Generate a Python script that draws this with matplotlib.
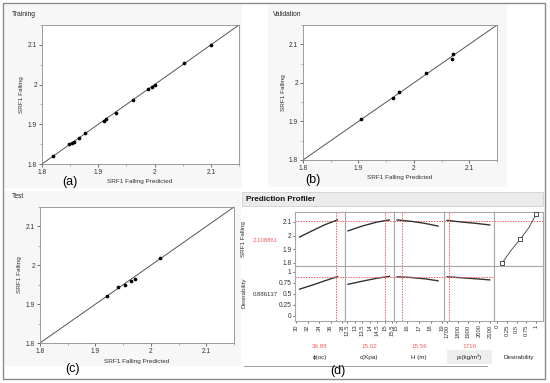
import numpy as np
import matplotlib
matplotlib.use("Agg")
import matplotlib.pyplot as plt
from matplotlib.patches import Rectangle
from matplotlib.lines import Line2D
from matplotlib.ticker import MultipleLocator

plt.rcParams['font.family'] = ['Liberation Sans', 'DejaVu Sans']

# actual by predicted data (predicted, actual)
train_pred = [1.820, 1.848, 1.854, 1.856, 1.865, 1.876, 1.911, 1.914, 1.931, 1.961, 1.988, 1.995, 2.000, 2.052, 2.100]
train_act = [1.819, 1.850, 1.854, 1.855, 1.865, 1.879, 1.909, 1.914, 1.929, 1.960, 1.988, 1.994, 2.000, 2.055, 2.100]

val_pred = [1.904, 1.962, 1.973, 2.022, 2.068, 2.071]
val_act = [1.906, 1.961, 1.976, 2.026, 2.062, 2.075]

test_pred = [1.920, 1.940, 1.954, 1.965, 1.971, 2.016]
test_act = [1.920, 1.944, 1.949, 1.959, 1.965, 2.019]

axis_range = [1.8, 2.15]
scatter_ticks = [1.8, 1.9, 2.0, 2.1]
scatter_ticklabels = ['1.8', '1.9', '2', '2.1']

# prediction profiler
factor_names = ['ϕ(oc)', 'c(Kpa)', 'H (m)', 'ρₜ(kg/m³)', 'Desirability']
factor_values = [36.88, 15.02, 15.56, 1716]
factor_value_labels = ['36.88', '15.02', '15.56', '1716']
factor_ticks = [[30, 32, 34, 36, 38],
                [12.5, 13, 13.5, 14, 14.5, 15, 15.5],
                [15, 16, 17, 18, 19],
                [1700, 1800, 1900, 2000, 2100],
                [0, 0.25, 0.5, 0.75, 1]]
factor_ticklabels = [['30', '32', '34', '36', '38'],
                     ['12.5', '13', '13.5', '14', '14.5', '15', '15.5'],
                     ['15', '16', '17', '18', '19'],
                     ['1700', '1800', '1900', '2000', '2100'],
                     ['0', '0.25', '0.5', '0.75', '1']]
factor_lims = [(29.8, 38.5), (12.37, 15.6), (14.83, 19.17), (1670, 2140), (-0.08, 1.18)]

profile_x = [[30.6, 33, 35, 37.2],
             [12.57, 13.5, 14.5, 15.3],
             [15.1, 16.3, 17.5, 18.65],
             [1700, 1830, 1970, 2100]]
srf_profile = [[1.99, 2.04, 2.08, 2.115],
               [2.035, 2.07, 2.10, 2.115],
               [2.115, 2.105, 2.09, 2.07],
               [2.112, 2.10, 2.09, 2.078]]
des_profile = [[0.61, 0.71, 0.80, 0.895],
               [0.72, 0.79, 0.86, 0.90],
               [0.89, 0.875, 0.845, 0.80],
               [0.89, 0.87, 0.845, 0.82]]

des_curve_x = [0.13, 0.35, 0.6, 0.82, 1.0]
des_curve_y = [1.80, 1.89, 1.975, 2.06, 2.155]
des_points_x = [0.13, 0.6, 1.0]
des_points_y = [1.80, 1.975, 2.155]

srf_current = 2.108861
des_current = 0.886137
srf_ticks = [1.8, 1.9, 2.0, 2.1]
srf_ticklabels = ['1.8', '1.9', '2', '2.1']
des_ticks = [0, 0.25, 0.5, 0.75, 1]
des_ticklabels = ['0', '0.25', '0.5', '0.75', '1']

W, H = 550, 383
RED = '#f06060'
GRID = '#a8a8a8'


def fbox(x0, y0, x1, y1):
    return [x0 / W, 1 - y1 / H, (x1 - x0) / W, (y1 - y0) / H]


def fx(x):
    return x / W


def fy(y):
    return 1 - y / H


def rect(x0, y0, x1, y1, **kw):
    r = Rectangle((fx(x0), fy(y1)), (x1 - x0) / W, (y1 - y0) / H,
                  transform=fig.transFigure, **kw)
    fig.add_artist(r)


fig = plt.figure(figsize=(W / 100, H / 100), dpi=100)

# panel backgrounds
rect(5, 5, 242, 188, facecolor='#f7f7f7', edgecolor='none', zorder=-5)
rect(268, 5, 507, 187, facecolor='#f7f7f7', edgecolor='none', zorder=-5)
rect(5, 191, 241, 366, facecolor='#f7f7f7', edgecolor='none', zorder=-5)
rect(242, 192, 543, 206, facecolor='#ebebeb', edgecolor='#d0d0d0', lw=0.6, zorder=-5)
rect(447, 350, 492, 364, facecolor='#eeeeee', edgecolor='none', zorder=-5)
rect(3, 3, 545, 379, facecolor='none', edgecolor='#8a8a8a', lw=1.0, zorder=5)

# scatter panels
panels = [
    ('Training', train_pred, train_act, (42, 25, 239, 164), (12, 15), 22, (140, 182), '(a)', (70, 182)),
    ('Validation', val_pred, val_act, (303, 25, 497, 160), (273, 15), 283, (400, 177), '(b)', (313, 180)),
    ('Test', test_pred, test_act, (40, 207, 234, 343), (12, 197), 20, (137, 362), '(c)', (72, 369)),
]

for title, xp, ya, box, tpos, ylx, xlpos, tag, tagpos in panels:
    ax = fig.add_axes(fbox(*box))
    ax.plot(axis_range, axis_range, color='#555555', lw=0.7, zorder=2)
    ax.scatter(xp, ya, s=7, color='black', zorder=3, linewidths=0)
    ax.set_xlim(axis_range)
    ax.set_ylim(axis_range)
    ax.set_xticks(scatter_ticks)
    ax.set_xticklabels(scatter_ticklabels)
    ax.set_yticks(scatter_ticks)
    ax.set_yticklabels(scatter_ticklabels)
    ax.xaxis.set_minor_locator(MultipleLocator(0.05))
    ax.yaxis.set_minor_locator(MultipleLocator(0.05))
    ax.tick_params(labelsize=4.8, length=2, width=0.5, pad=1.5, colors='#333333')
    ax.tick_params(which='minor', length=1.2, width=0.4, colors='#777777')
    for s in ax.spines.values():
        s.set_color('#8c8c8c')
        s.set_linewidth(0.6)
    fig.text(fx(tpos[0]), fy(tpos[1]), title, fontsize=4.8, ha='left', va='center', color='#222222')
    fig.text(fx(ylx), fy((box[1] + box[3]) / 2), 'SRF1 Falling', fontsize=4.6,
             rotation=90, ha='center', va='center', color='#333333')
    fig.text(fx(xlpos[0]), fy(xlpos[1]), 'SRF1 Falling Predicted', fontsize=4.6,
             ha='center', va='center', color='#333333')
    fig.text(fx(tagpos[0]), fy(tagpos[1]), tag, fontsize=9, ha='center', va='center')

# profiler header
fig.text(fx(246), fy(199), 'Prediction Profiler', fontsize=5.8, fontweight='bold',
         ha='left', va='center', color='#111111')

col_edges = [295, 345, 394, 444, 494, 543]
row_edges = [212, 266, 321]

for i in range(5):
    x0, x1 = col_edges[i], col_edges[i + 1]
    top = fig.add_axes(fbox(x0, row_edges[0], x1, row_edges[1]))
    bot = fig.add_axes(fbox(x0, row_edges[1], x1, row_edges[2]))
    for a in (top, bot):
        a.set_xlim(factor_lims[i])
        for s in a.spines.values():
            s.set_color(GRID)
            s.set_linewidth(0.8)
        a.tick_params(length=0)
    top.set_ylim(1.778, 2.173)
    bot.set_ylim(-0.114, 1.136)
    top.set_xticks([])
    if i == 0:
        top.set_yticks(srf_ticks)
        top.set_yticklabels(srf_ticklabels)
        bot.set_yticks(des_ticks)
        bot.set_yticklabels(des_ticklabels)
        for a in (top, bot):
            a.tick_params(axis='y', labelsize=4.8, length=1.5, width=0.5, pad=1, colors='#333333')
    else:
        top.set_yticks([])
        bot.set_yticks([])
    bot.set_xticks(factor_ticks[i])
    bot.set_xticklabels(factor_ticklabels[i], rotation=90)
    bot.tick_params(axis='x', labelsize=4.2, length=1.5, width=0.5, pad=1, colors='#333333')

    top.axhline(srf_current, color=RED, lw=0.7, ls=(0, (1.5, 1.2)))
    if i < 4:
        top.plot(profile_x[i], srf_profile[i], color='#333333', lw=1.0)
        bot.plot(profile_x[i], des_profile[i], color='#333333', lw=1.0)
        bot.axhline(des_current, color=RED, lw=0.7, ls=(0, (1.5, 1.2)))
        for a in (top, bot):
            a.axvline(factor_values[i], color=RED, lw=0.7, ls=(0, (1.5, 1.2)))
        fig.text(fx((x0 + x1) / 2), fy(347), factor_value_labels[i], fontsize=4.5,
                 color=RED, ha='center', va='center')
    else:
        top.plot(des_curve_x, des_curve_y, color='#555555', lw=0.7)
        top.scatter(des_points_x, des_points_y, s=7, marker='s', facecolor='white',
                    edgecolor='#333333', linewidths=0.6, zorder=3)
    fig.text(fx((x0 + x1) / 2), fy(357), factor_names[i], fontsize=4.5,
             color='#222222', ha='center', va='center')

fig.text(fx(244), fy(239), 'SRF1 Falling', fontsize=4.5, rotation=90, ha='center', va='center', color='#333333')
fig.text(fx(244), fy(293), 'Desirability', fontsize=4.5, rotation=90, ha='center', va='center', color='#333333')
fig.text(fx(265), fy(240), f'{srf_current:.6f}', fontsize=4.3, color=RED, ha='center', va='center')
fig.text(fx(265), fy(295), f'{des_current:.6f}', fontsize=4.3, color='#333333', ha='center', va='center')

fig.add_artist(Line2D([fx(244), fx(487)], [fy(366), fy(366)], transform=fig.transFigure,
                      color='#9a9a9a', lw=0.7))
fig.text(fx(338), fy(371), '(d)', fontsize=9, ha='center', va='center')

fig.savefig('out.png', dpi=100)
